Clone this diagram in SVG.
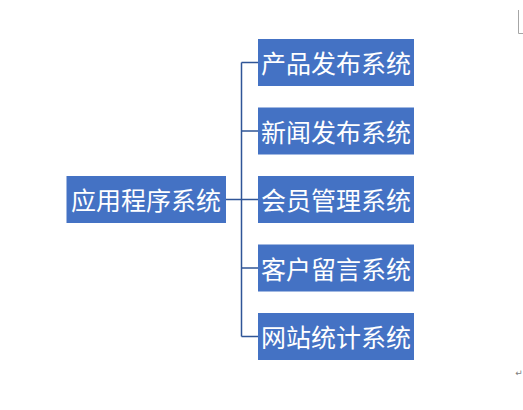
<svg xmlns="http://www.w3.org/2000/svg" width="523" height="410" viewBox="0 0 523 410">
<style>
.box{fill:#4472C4;}
.lbl{fill:#FFFFFF;font-family:"Noto Sans CJK SC","Noto Sans",sans-serif;font-size:25px;text-anchor:middle;dominant-baseline:central;}
.conn{fill:none;stroke:#2F5597;stroke-width:1.5;}
.mark{fill:none;stroke:#A6A6A6;stroke-width:1;}
</style>
<rect width="523" height="410" fill="#FFFFFF"/>
<g id="connectors">
<path class="conn" d="M226,199.5 H241.5 M241.5,62.5 V336.5 M241.5,62.5 H258 M241.5,131 H258 M241.5,199.5 H258 M241.5,268 H258 M241.5,336.5 H258"/>
</g>
<g id="node-root"><rect class="box" x="66.5" y="176" width="159.5" height="47"/><text class="lbl" x="146" y="199">应用程序系统</text></g>
<g id="node-1"><rect class="box" x="258" y="39" width="156" height="47"/><text class="lbl" x="336" y="62">产品发布系统</text></g>
<g id="node-2"><rect class="box" x="258" y="107.5" width="156" height="47"/><text class="lbl" x="336" y="130.5">新闻发布系统</text></g>
<g id="node-3"><rect class="box" x="258" y="176" width="156" height="47"/><text class="lbl" x="336" y="199">会员管理系统</text></g>
<g id="node-4"><rect class="box" x="258" y="244.5" width="156" height="47"/><text class="lbl" x="336" y="267.5">客户留言系统</text></g>
<g id="node-5"><rect class="box" x="258" y="313" width="156" height="47"/><text class="lbl" x="336" y="336">网站统计系统</text></g>
<path class="mark" d="M518.5,10 V33.5 H523"/>
<text x="519" y="373" font-family="DejaVu Sans, sans-serif" font-size="9" fill="#808080" text-anchor="middle" dominant-baseline="central">↵</text>
</svg>
